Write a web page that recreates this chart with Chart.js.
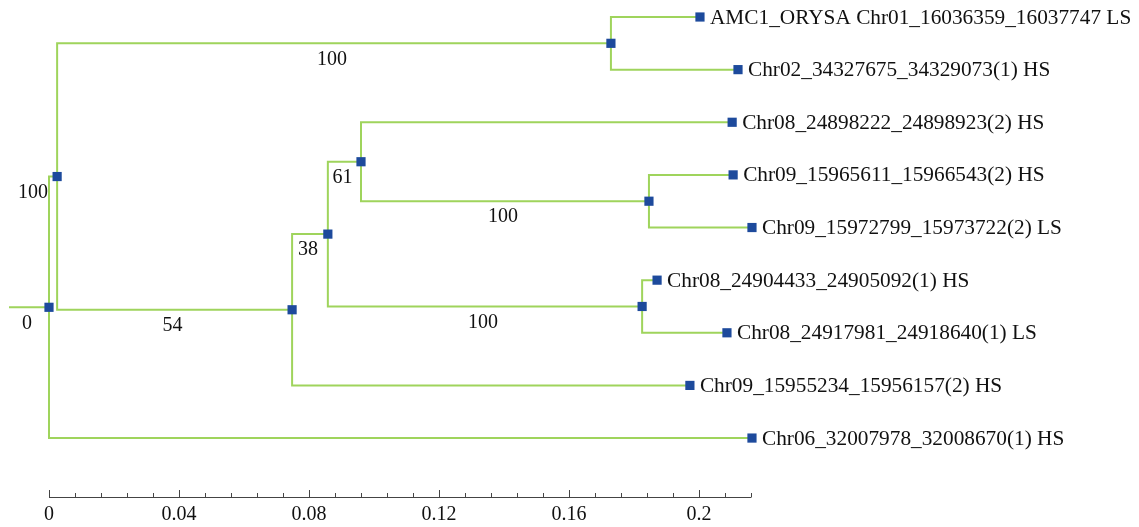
<!DOCTYPE html>
<html>
<head>
<meta charset="utf-8">
<title>Tree</title>
<script src="https://cdn.jsdelivr.net/npm/chart.js@4.4.1/dist/chart.umd.min.js"></script>
<style>
    html, body { margin: 0; padding: 0; background: #ffffff; }
    #treeChart { display: block; }
</style>
</head>
<body>
<canvas id="treeChart" width="1139" height="527"></canvas>
<script>
// ======================================================
// Données de l'arbre
// ======================================================

// feuilles, de haut en bas
const leafNames = [
    "AMC1_ORYSA Chr01_16036359_16037747 LS",
    "Chr02_34327675_34329073(1) HS",
    "Chr08_24898222_24898923(2) HS",
    "Chr09_15965611_15966543(2) HS",
    "Chr09_15972799_15973722(2) LS",
    "Chr08_24904433_24905092(1) HS",
    "Chr08_24917981_24918640(1) LS",
    "Chr09_15955234_15956157(2) HS",
    "Chr06_32007978_32008670(1) HS"
];
const leafDepth = [0.2003, 0.2120, 0.2102, 0.2105, 0.2163, 0.1871, 0.2086, 0.1972, 0.2163];
const leafParent = ["A", "A", "D", "B", "B", "C", "C", "F", "R"];

// noeuds internes
const nodeNames = ["R", "G", "A", "F", "E", "D", "B", "C"];
const nodeDepth = [0, 0.0025, 0.1729, 0.0748, 0.0858, 0.0960, 0.1846, 0.1825];
const nodeParent = [null, "R", "G", "G", "F", "E", "D", "E"];
const nodeSupport = ["0", "100", "100", "54", "38", "61", "100", "100"];

const rootStubDepth = -0.0123;

// axe
const majorTicks = [0, 0.04, 0.08, 0.12, 0.16, 0.2];
const tickLabels = ["0", "0.04", "0.08", "0.12", "0.16", "0.2"];
const minorStep = 0.008;
const axisMax = 0.216;

const lineColor = "#9fd45c";
const nodeColor = "#1d4a9c";
const serif = "'Liberation Serif', 'DejaVu Serif', serif";

// ======================================================
// Mise en page de l'arbre
// ======================================================

let nodes = {};

leafNames.forEach((name, i) => {
    nodes["L" + i] = { depth: leafDepth[i], parent: leafParent[i], y: i, children: [] };
});

nodeNames.forEach((name, i) => {
    nodes[name] = { depth: nodeDepth[i], parent: nodeParent[i], children: [], support: nodeSupport[i] };
});

Object.keys(nodes).forEach(k => {
    let p = nodes[k].parent;
    if (p) nodes[p].children.push(k);
});

function layoutY(k) {
    let n = nodes[k];
    if (n.y !== undefined) return n.y;
    let ys = n.children.map(layoutY);
    n.y = (Math.min(...ys) + Math.max(...ys)) / 2;
    return n.y;
}
layoutY("R");

// branches : coude parent -> enfant
let branchPoints = [];
Object.keys(nodes).forEach(k => {
    let n = nodes[k];
    let px = n.parent ? nodes[n.parent].depth : rootStubDepth;
    let py = n.parent ? nodes[n.parent].y : n.y;
    branchPoints.push({ x: px, y: py });
    branchPoints.push({ x: px, y: n.y });
    branchPoints.push({ x: n.depth, y: n.y });
    branchPoints.push({ x: n.depth, y: null });
});

let nodePoints = Object.keys(nodes).map(k => ({ x: nodes[k].depth, y: nodes[k].y }));

// ======================================================
// Textes et axe
// ======================================================

const treeText = {
    id: "treeText",
    afterDatasetsDraw(chart) {
        const ctx = chart.ctx;
        const xs = chart.scales.x;
        const ys = chart.scales.y;
        const bottom = chart.chartArea.bottom;

        ctx.save();
        ctx.fillStyle = "#111111";
        ctx.textBaseline = "middle";

        // noms des feuilles
        ctx.font = "21.3px " + serif;
        leafNames.forEach((name, i) => {
            let n = nodes["L" + i];
            ctx.textAlign = "left";
            ctx.fillText(name, xs.getPixelForValue(n.depth) + 10, ys.getPixelForValue(n.y) + 1);
        });

        // valeurs de bootstrap
        ctx.font = "20px " + serif;
        nodeNames.forEach(k => {
            let n = nodes[k];
            let x1 = xs.getPixelForValue(n.parent ? nodes[n.parent].depth : rootStubDepth);
            let x2 = xs.getPixelForValue(n.depth);
            let y = ys.getPixelForValue(n.y) + 16;
            let w = ctx.measureText(n.support).width;
            if (x2 - x1 < w + 4) {
                ctx.textAlign = "right";
                ctx.fillText(n.support, x1 - 1, y);
            } else {
                ctx.textAlign = "center";
                ctx.fillText(n.support, (x1 + x2) / 2 - 2, y);
            }
        });

        // axe des distances
        ctx.strokeStyle = "#444444";
        ctx.lineWidth = 1;
        ctx.beginPath();
        ctx.moveTo(xs.getPixelForValue(0), bottom + 0.5);
        ctx.lineTo(xs.getPixelForValue(axisMax), bottom + 0.5);
        for (let v = 0; v <= axisMax + 1e-9; v += minorStep) {
            let x = Math.round(xs.getPixelForValue(v)) + 0.5;
            let major = majorTicks.some(t => Math.abs(t - v) < 1e-6);
            ctx.moveTo(x, bottom + 0.5);
            ctx.lineTo(x, bottom - (major ? 7 : 4));
        }
        ctx.stroke();

        ctx.restore();
    }
};

// ======================================================
// Graphique
// ======================================================

new Chart(document.getElementById("treeChart"), {

    type: "scatter",

    data: {
        datasets: [
            {
                data: nodePoints,
                order: 0,
                pointStyle: "rect",
                pointRadius: 6.5,
                pointBorderWidth: 0,
                backgroundColor: nodeColor,
                borderColor: nodeColor,
                clip: false
            },
            {
                data: branchPoints,
                order: 1,
                showLine: true,
                spanGaps: false,
                borderColor: lineColor,
                borderWidth: 2,
                pointRadius: 0,
                clip: false
            }
        ]
    },

    options: {
        responsive: false,
        animation: false,
        devicePixelRatio: 1,
        layout: {
            padding: { left: 49, right: 388, top: 17, bottom: 0 }
        },
        plugins: {
            legend: { display: false },
            tooltip: { enabled: false }
        },
        scales: {
            x: {
                type: "linear",
                min: 0,
                max: axisMax,
                grid: { display: false, drawTicks: false },
                border: { display: false },
                afterBuildTicks: scale => {
                    scale.ticks = majorTicks.map(v => ({ value: v }));
                },
                afterFit: scale => {
                    scale.height = 30;
                },
                ticks: {
                    padding: 6,
                    color: "#111111",
                    font: { family: serif, size: 20 },
                    maxRotation: 0,
                    callback: (value, index) => tickLabels[index]
                }
            },
            y: {
                type: "linear",
                display: false,
                reverse: true,
                min: 0,
                max: 9.12
            }
        }
    },

    plugins: [treeText]

});
</script>
</body>
</html>
